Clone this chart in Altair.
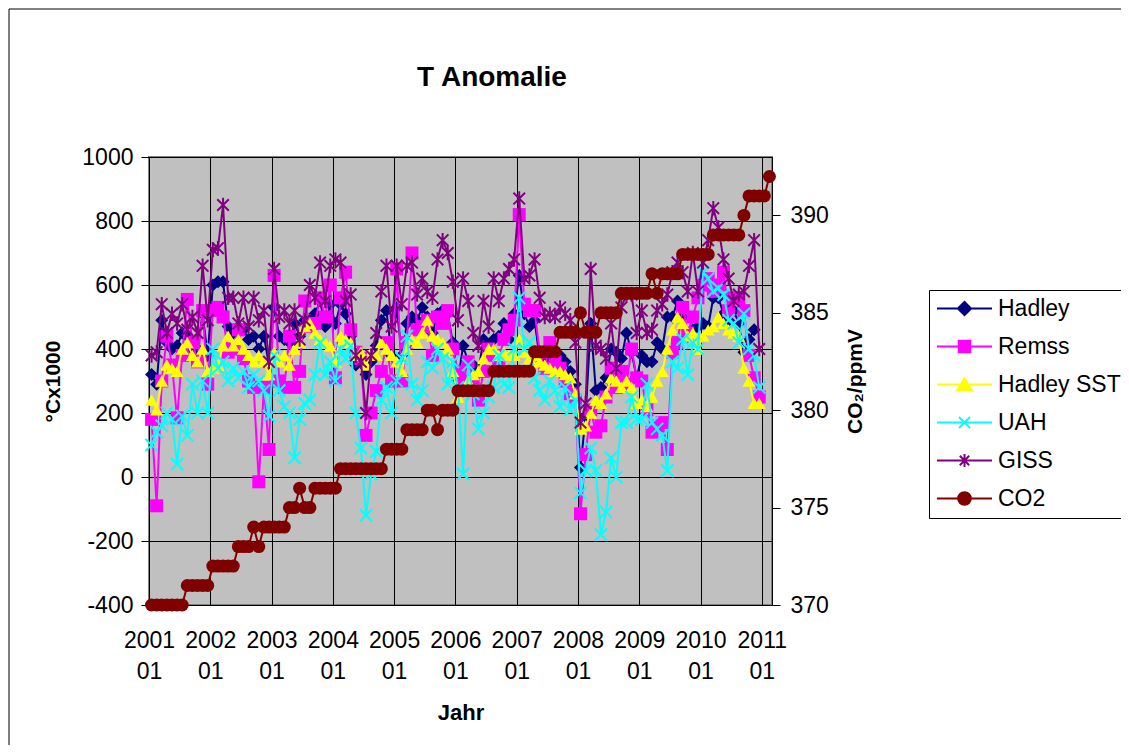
import altair as alt
import pandas as pd

FONT = "Liberation Sans"

# ---------------- data (monthly, 2001-01 ... 2011-02) ----------------
chart_title = "T Anomalie"
series_names = ["Hadley", "Remss", "Hadley SST", "UAH", "GISS", "CO2"]
series_colors = ["#000080", "#FF00FF", "#FFFF00", "#00FFFF", "#800080", "#800000"]

hadley = [
    320, 290, 490, 420, 400, 410, 450, 440, 400, 400, 510, 380,
    600, 610, 610, 470, 450, 470, 460, 430, 440, 400, 440, 350,
    530, 440, 430, 420, 480, 440, 490, 490, 510, 550, 470, 540,
    480, 540, 510, 440, 350, 370, 320, 360, 410, 490, 520, 380,
    530, 380, 480, 500, 490, 530, 500, 450, 510, 520, 510, 420,
    300, 410, 360, 350, 330, 430, 410, 430, 440, 480, 430, 510,
    630, 510, 470, 490, 370, 360, 380, 370, 380, 360, 330, 290,
    30, 190, 480, 270, 280, 310, 400, 390, 370, 450, 390, 310,
    380, 360, 360, 420, 400, 500, 500, 550, 500, 440, 460, 470,
    480, 470, 560, 560, 510, 490, 520, 480, 390, 430, 460,
]
remss = [
    180, -90, 300, 440, 350, 185, 380, 555, 420, 360, 520, 290,
    520, 530, 500, 390, 400, 460, 370, 300, 280, -15, 280, 86,
    630, 300, 280, 440, 280, 330, 550, 470, 480, 560, 500, 600,
    310, 560, 640, 460, 390, 370, 130, 200, 270, 330, 420, 300,
    650, 300, 420, 700, 460, 470, 490, 380, 500, 480, 520, 400,
    330, 300, 360, 310, 240, 330, 400, 380, 370, 430, 460, 490,
    820, 540, 520, 520, 390, 340, 420, 360, 340, 300, 260, 240,
    -115, 70, 210, 140, 160, 250, 340, 280, 330, 290, 400, 310,
    300, 210, 140, 160, 170, 86, 390, 420, 530, 450, 500, 560,
    600, 620, 580, 600, 640, 520, 560, 560, 520, 380, 310, 250,
]
hadley_sst = [
    240, 210, 300, 350, 340, 330, 400, 420, 380, 360, 400, 330,
    340, 350, 410, 440, 410, 430, 400, 380, 360, 380, 360, 320,
    390, 360, 380, 350, 400, 420, 470, 480, 450, 430, 420, 410,
    360, 440, 430, 420, 380, 390, 350, 390, 380, 420, 400, 380,
    360, 330, 400, 430, 420, 450, 490, 440, 430, 420, 400, 330,
    250, 270, 300, 320, 330, 370, 400, 400, 380, 390, 380, 380,
    430, 390, 370, 380, 360, 350, 340, 330, 330, 320, 310, 260,
    150, 160, 200, 240, 230, 260, 310, 300, 280, 300, 280, 230,
    240, 220, 250, 300, 330, 400, 460, 500, 480, 440, 450, 400,
    440, 460, 470, 500, 480, 460, 450, 440, 340, 300, 230, 230,
]
uah = [
    100, 140, 160, 200, 180, 40, 190, 130, 290, 200, 300, 200,
    400, 340, 360, 300, 340, 310, 330, 280, 320, 300, 270, 190,
    380, 270, 220, 200, 60, 180, 230, 240, 320, 420, 320, 360,
    300, 400, 370, 410, 200, 90, -120, 10, 80, 240, 280, 200,
    300, 370, 440, 290, 240, 270, 360, 340, 400, 370, 290, 360,
    280, 10, 350, 260, 150, 200, 250, 280, 380, 290, 280, 400,
    560, 400, 420, 310, 270, 240, 300, 270, 220, 280, 210, 240,
    -50, 20, 90, 20, -180, -110, 60, 0, 170, 170, 250, 180,
    180, 290, 170, 150, 130, 20, 360, 340, 430, 320, 420, 400,
    640, 620, 580, 590, 570, 490, 480, 420, 510, 400, 380, 280,
]
giss = [
    380, 390, 540, 450, 510, 480, 540, 460, 500, 450, 660, 490,
    710, 715, 850, 560, 560, 480, 560, 470, 560, 490, 520, 360,
    650, 500, 520, 480, 520, 430, 490, 600, 560, 670, 550, 660,
    680, 670, 550, 570, 380, 360, 200, 380, 450, 580, 660, 470,
    660, 540, 660, 670, 570, 620, 580, 560, 680, 740, 700, 610,
    490, 620, 550, 450, 410, 550, 470, 620, 550, 620, 650, 680,
    870, 620, 630, 680, 560, 500, 510, 500, 530, 510, 490, 420,
    170, 230, 650, 410, 400, 370, 480, 340, 530, 570, 570, 450,
    520, 450, 460, 520, 540, 570, 640, 670, 640, 580, 700, 580,
    670, 740, 840, 780, 680, 620, 550, 570, 580, 660, 740, 400,
]
co2 = [
    370, 370, 370, 370, 370, 370, 370, 371, 371, 371, 371, 371,
    372, 372, 372, 372, 372, 373, 373, 373, 374, 373, 374, 374,
    374, 374, 374, 375, 375, 376, 375, 375, 376, 376, 376, 376,
    376, 377, 377, 377, 377, 377, 377, 377, 377, 377, 378, 378,
    378, 378, 379, 379, 379, 379, 380, 380, 379, 380, 380, 380,
    381, 381, 381, 381, 381, 381, 381, 382, 382, 382, 382, 382,
    382, 382, 382, 383, 383, 383, 383, 383, 384, 384, 384, 384,
    385, 384, 384, 384, 385, 385, 385, 385, 386, 386, 386, 386,
    386, 386, 387, 386, 387, 387, 387, 387, 388, 388, 388, 388,
    388, 388, 389, 389, 389, 389, 389, 389, 390, 391, 391, 391,
    391, 392,
]
year_labels = [str(y) for y in range(2001, 2012)]
month_label = "01"

temp_series = [hadley, remss, hadley_sst, uah, giss]

# marker shapes (plot) and legend symbols (line + marker)
X_PATH = "M-1,-1L1,1M-1,1L1,-1"
STAR_PATH = "M-0.8,-0.8L0.8,0.8M-0.8,0.8L0.8,-0.8M0,-1L0,1"
plot_shapes = ["diamond", "square", "triangle-up", X_PATH, STAR_PATH, "circle"]
plot_sizes = [169, 169, 169, 150, 210, 169]
legend_paths = [
    "M-1,0L1,0M0,-0.24L0.24,0L0,0.24L-0.24,0Z",
    "M-1,0L1,0M-0.21,-0.21L0.21,-0.21L0.21,0.21L-0.21,0.21Z",
    "M-1,0L1,0M0,-0.23L0.26,0.2L-0.26,0.2Z",
    "M-1,0L1,0M-0.2,-0.2L0.2,0.2M-0.2,0.2L0.2,-0.2",
    "M-1,0L1,0M-0.17,-0.17L0.17,0.17M-0.17,0.17L0.17,-0.17M0,-0.24L0,0.24",
    "M-1,0L1,0M0.23,0A0.23,0.23,0,1,1,-0.23,0A0.23,0.23,0,1,1,0.23,0Z",
]


def frame(name, vals, col="v"):
    return pd.DataFrame({"m": [i + 0.5 for i in range(len(vals))], col: vals, "s": name})


label_expr = (
    "[" + "[" + ",".join("'%s'" % y for y in year_labels) + "][floor(datum.value/12)], '"
    + month_label + "']"
)

x_enc = alt.X(
    "m:Q",
    scale=alt.Scale(domain=[0, 122], nice=False, zero=False),
    axis=alt.Axis(
        values=list(range(0, 121, 12)),
        labelExpr=label_expr,
        grid=True, gridColor="black", gridWidth=1, gridOpacity=1,
        domain=False, ticks=False,
        labelFont=FONT, labelFontSize=23, labelColor="black",
        labelLineHeight=31, labelPadding=24, labelFlush=False, labelOverlap=False,
        labelBaseline="top",
        title="Jahr", titleFont=FONT, titleFontSize=22, titleFontWeight="bold",
        titleColor="black", titlePadding=19,
    ),
)

y_temp = alt.Y(
    "v:Q",
    scale=alt.Scale(domain=[-400, 1000], nice=False, zero=False),
    axis=alt.Axis(
        orient="left", values=list(range(-400, 1001, 200)),
        labelExpr="'' + datum.value",
        grid=True, gridColor="black", gridWidth=1, gridOpacity=1,
        domainColor="black", domainWidth=1, tickColor="black", tickSize=8,
        labelFont=FONT, labelFontSize=23, labelColor="black", labelPadding=8,
        title="°Cx1000", titleFont=FONT, titleFontSize=21, titleFontWeight="bold",
        titleColor="black", titlePadding=18,
    ),
)

y_co2 = alt.Y(
    "c:Q",
    scale=alt.Scale(domain=[370, 393], nice=False, zero=False),
    axis=alt.Axis(
        orient="right", values=[370, 375, 380, 385, 390],
        labelExpr="'' + datum.value", grid=False,
        domainColor="black", domainWidth=1, tickColor="black", tickSize=8,
        labelFont=FONT, labelFontSize=23, labelColor="black", labelPadding=10,
        title="CO₂/ppmV", titleFont=FONT, titleFontSize=21, titleFontWeight="bold",
        titleColor="black", titleAngle=270, titlePadding=37,
    ),
)

temp_layers = []
for k, vals in enumerate(temp_series):
    df = frame(series_names[k], vals)
    base = alt.Chart(df)
    temp_layers.append(
        base.mark_line(color=series_colors[k], strokeWidth=2).encode(x=x_enc, y=y_temp)
    )
    filled = k in (0, 1, 2)
    temp_layers.append(
        base.mark_point(
            shape=plot_shapes[k], size=plot_sizes[k], filled=filled,
            color=series_colors[k], opacity=1, strokeWidth=2,
        ).encode(x=x_enc, y=y_temp)
    )

# legend carrier (points lie outside the plot and are clipped away)
legend_df = pd.DataFrame({"s": series_names, "m": [-50] * 6, "v": [0] * 6})
leg = alt.Legend(
    title=None, orient="none", legendX=780, legendY=133, direction="vertical",
    symbolSize=3025, symbolStrokeWidth=2, labelFont=FONT, labelFontSize=23,
    labelColor="black", labelOffset=5, padding=7, rowPadding=14, clipHeight=23,
    strokeColor="black", fillColor="white", symbolOpacity=1,
)
legend_layer = alt.Chart(legend_df).mark_point(
    filled=True, size=3025, opacity=1, strokeWidth=2, clip=True
).encode(
    x=x_enc, y=y_temp,
    fill=alt.Fill("s:N", scale=alt.Scale(domain=series_names, range=series_colors), legend=leg),
    stroke=alt.Stroke("s:N", scale=alt.Scale(domain=series_names, range=series_colors), legend=leg),
    shape=alt.Shape("s:N", scale=alt.Scale(domain=series_names, range=legend_paths), legend=leg),
)
temp_layers.append(legend_layer)

co2_df = frame("CO2", co2, col="c")
co2_line = alt.Chart(co2_df).mark_line(color=series_colors[5], strokeWidth=2).encode(x=x_enc, y=y_co2)
co2_pts = alt.Chart(co2_df).mark_point(
    shape="circle", size=plot_sizes[5], filled=True, color=series_colors[5], opacity=1
).encode(x=x_enc, y=y_co2)

# chart frame and title
deco = pd.DataFrame({"t": [chart_title]})
border = alt.Chart(deco).mark_rect(
    fill="transparent", stroke="black", strokeWidth=1
).encode(x=alt.value(-140), x2=alt.value(1300), y=alt.value(-148), y2=alt.value(900))
title_mark = alt.Chart(deco).mark_text(
    font=FONT, fontSize=28, fontWeight="bold", color="black",
    align="center", baseline="middle",
).encode(text="t:N", x=alt.value(343), y=alt.value(-79))

chart = alt.layer(
    border,
    title_mark,
    alt.layer(*temp_layers),
    alt.layer(co2_line, co2_pts),
).resolve_scale(y="independent").properties(
    width=623, height=448,
    padding={"left": 141, "top": 149, "right": 349, "bottom": 140},
    autosize=alt.AutoSizeParams(type="none"),
).configure(font=FONT).configure_view(
    fill="#C0C0C0", stroke="#808080", strokeWidth=2
)

chart.save("out.html", embed_options={"renderer": "svg", "actions": False})
